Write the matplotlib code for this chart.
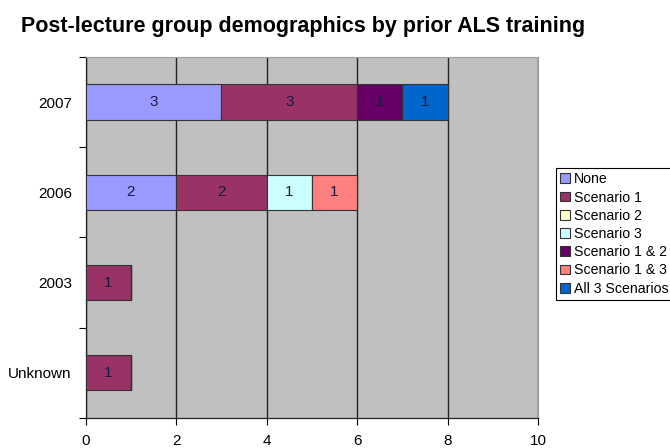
import matplotlib.pyplot as plt
import numpy as np

plt.rcParams["font.family"] = ["Liberation Sans", "DejaVu Sans"]

# Groups from bottom to top of the chart
GROUPS = ["Unknown", "2003", "2006", "2007"]

SERIES = [
    "None",
    "Scenario 1",
    "Scenario 2",
    "Scenario 3",
    "Scenario 1 & 2",
    "Scenario 1 & 3",
    "All 3 Scenarios",
]

NONE = [0, 0, 2, 3]
SCEN_1 = [1, 1, 2, 3]
SCEN_2 = [0, 0, 0, 0]
SCEN_3 = [0, 0, 1, 0]
SCEN_12 = [0, 0, 0, 1]
SCEN_13 = [0, 0, 1, 0]
SCEN_ALL = [0, 0, 0, 1]

COLORS = ["#9999FF", "#993366", "#FFFFCC", "#CCFFFF", "#660066", "#FF8080", "#0066CC"]

XTICKS = [0, 2, 4, 6, 8, 10]


def main():
    values = [NONE, SCEN_1, SCEN_2, SCEN_3, SCEN_12, SCEN_13, SCEN_ALL]
    fig = plt.figure(figsize=(6.7, 4.48), dpi=100)
    ax = fig.add_axes([0.128, 0.067, 0.675, 0.806])
    ax.set_facecolor("#C0C0C0")

    y = np.arange(len(GROUPS))
    left = np.zeros(len(GROUPS))
    for name, vals, color in zip(SERIES, values, COLORS):
        vals = np.array(vals, dtype=float)
        bars = ax.barh(y, vals, left=left, height=0.39, color=color,
                       edgecolor="#333333", linewidth=0.8, label=name, zorder=3)
        for bar, v in zip(bars, vals):
            if v > 0:
                ax.text(bar.get_x() + bar.get_width() / 2, bar.get_y() + bar.get_height() / 2,
                        f"{int(v)}", ha="center", va="center", fontsize=11,
                        color="#1a1a40", zorder=4)
        left += vals

    ax.set_xlim(0, 10)
    ax.set_ylim(-0.5, len(GROUPS) - 0.5)
    ax.set_xticks(XTICKS)
    ax.set_xticklabels([str(t) for t in XTICKS], fontsize=11)
    ax.set_yticks(y)
    ax.set_yticklabels(GROUPS, fontsize=11)
    ax.tick_params(axis="y", length=0, pad=10)
    ax.set_yticks(np.arange(-0.5, len(GROUPS), 1.0), minor=True)
    ax.tick_params(axis="y", which="minor", length=5, width=0.8, direction="out")
    ax.tick_params(axis="x", length=5, width=0.8, direction="out", pad=6.5)
    ax.xaxis.grid(True, color="#222222", linewidth=1.0, zorder=1)
    ax.set_axisbelow(True)

    for side in ["top", "right"]:
        ax.spines[side].set_color("#A0A0A0")
        ax.spines[side].set_linewidth(0.8)
    for side in ["left", "bottom"]:
        ax.spines[side].set_color("#222222")
        ax.spines[side].set_linewidth(0.9)

    fig.text(0.032, 0.94, "Post-lecture group demographics by prior ALS training",
             fontsize=15.5, fontweight="bold", va="center", ha="left")

    leg = fig.legend(loc="upper left", bbox_to_anchor=(0.83, 0.625), fontsize=10.2,
                     frameon=True, fancybox=False, edgecolor="black", framealpha=1,
                     handlelength=0.7, handleheight=0.7, handletextpad=0.25,
                     labelspacing=0.3, borderpad=0.3, borderaxespad=0)
    leg.get_frame().set_linewidth(0.8)

    fig.savefig("out.png", dpi=100)
    plt.close(fig)


if __name__ == "__main__":
    main()
